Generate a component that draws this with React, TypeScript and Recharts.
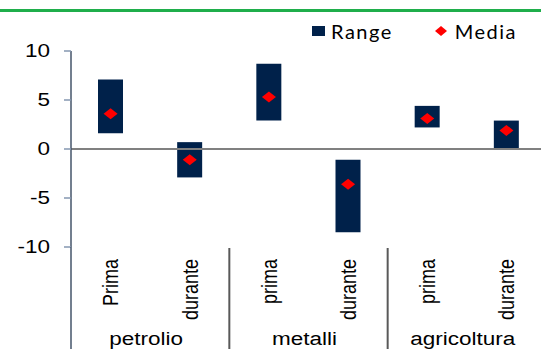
import { ComposedChart, Bar, Line, XAxis, YAxis, ReferenceLine } from 'recharts'

const categories = ['Prima', 'durante', 'prima', 'durante', 'prima', 'durante']
const groups = ['petrolio', 'metalli', 'agricoltura']
const rangeLow = [1.6, -2.9, 2.9, -8.5, 2.2, 0]
const rangeHigh = [7.1, 0.7, 8.7, -1.1, 4.4, 2.9]
const media = [3.6, -1.1, 5.3, -3.6, 3.1, 1.9]
const yTicks = [-10, -5, 0, 5, 10]

const NAVY = '#00214a'
const RED = '#ff0000'
const FONT = '"Liberation Sans", Arial, sans-serif'
// labels are drawn a bit wider horizontally than the font's natural shape
const STRETCH = 1.25

const data = categories.map((label, i) => ({
  label,
  range: [rangeLow[i], rangeHigh[i]],
  media: media[i],
}))

// diamond marker used for the mean
const Diamond = ({ cx, cy }: { cx?: number; cy?: number }) => {
  if (cx == null || cy == null) return null
  return (
    <path
      d={`M${cx - 7},${cy} L${cx},${cy - 5.5} L${cx + 7},${cy} L${cx},${cy + 5.5} Z`}
      fill={RED}
    />
  )
}

const ValueTick = (props: any) => {
  const { x, y, payload } = props
  return (
    <text
      transform={`translate(${x}, ${y}) scale(${STRETCH}, 1)`}
      textAnchor="end"
      dy="0.35em"
      fontFamily={FONT}
      fontSize={18}
      fill="#000"
    >
      {payload.value}
    </text>
  )
}

// two-level category tick: rotated sub label, group name and separators
const CategoryTick = (props: any) => {
  const { x, payload, index } = props
  const half = payload?.offset ?? 39.6
  const top = 247
  return (
    <g>
      <text
        transform={`translate(${x}, 259) scale(${STRETCH}, 1) rotate(-90)`}
        textAnchor="end"
        dy="0.35em"
        fontFamily={FONT}
        fontSize={18}
        fill="#000"
      >
        {payload.value}
      </text>
      {index % 2 === 0 && (
        <>
          <text
            transform={`translate(${x + half - 4}, 345) scale(${STRETCH}, 1)`}
            textAnchor="middle"
            fontFamily={FONT}
            fontSize={18}
            fill="#000"
          >
            {groups[index / 2]}
          </text>
          <line
            x1={x - half}
            x2={x - half}
            y1={index === 0 ? top : top + 1}
            y2={349}
            stroke={index === 0 ? '#44546a' : '#595959'}
            strokeWidth={index === 0 ? 1.5 : 2}
          />
        </>
      )}
    </g>
  )
}

export default function App() {
  return (
    <div
      style={{
        position: 'absolute',
        left: 0,
        top: 0,
        width: 541,
        height: 349,
        overflow: 'hidden',
        background: '#fff',
      }}
    >
      <div
        style={{
          position: 'absolute',
          left: 0,
          top: 9,
          width: 541,
          height: 3,
          background: '#1fae4b',
        }}
      />
      <div
        style={{
          position: 'absolute',
          top: 19,
          left: 312,
          display: 'flex',
          alignItems: 'center',
          fontFamily: 'Lato, sans-serif',
          fontSize: 20,
          letterSpacing: 1.5,
          color: '#000',
          lineHeight: '24px',
        }}
      >
        <span style={{ width: 13, height: 10, background: NAVY, marginRight: 6 }} />
        <span>Range</span>
        <svg width={12} height={10} style={{ marginLeft: 42, marginRight: 8 }}>
          <path d="M0,5 L6,0 L12,5 L6,10 Z" fill={RED} />
        </svg>
        <span>Media</span>
      </div>
      <ComposedChart
        width={546}
        height={349}
        data={data}
        margin={{ top: 51, right: 0, left: 0, bottom: 0 }}
      >
        <XAxis
          dataKey="label"
          height={102}
          axisLine={false}
          tickLine={false}
          interval={0}
          tick={<CategoryTick />}
        />
        <YAxis
          width={71}
          domain={[-10, 10]}
          ticks={yTicks}
          allowDataOverflow
          axisLine={{ stroke: '#44546a', strokeWidth: 1.5 }}
          tickLine={{ stroke: '#8497b0', strokeWidth: 1.5 }}
          tickSize={7}
          tickMargin={14}
          tick={<ValueTick />}
        />
        <ReferenceLine y={0} stroke="#808080" strokeWidth={2} />
        <Bar dataKey="range" fill={NAVY} barSize={25} isAnimationActive={false} />
        <Line
          dataKey="media"
          stroke="none"
          dot={<Diamond />}
          activeDot={false}
          isAnimationActive={false}
        />
      </ComposedChart>
    </div>
  )
}
